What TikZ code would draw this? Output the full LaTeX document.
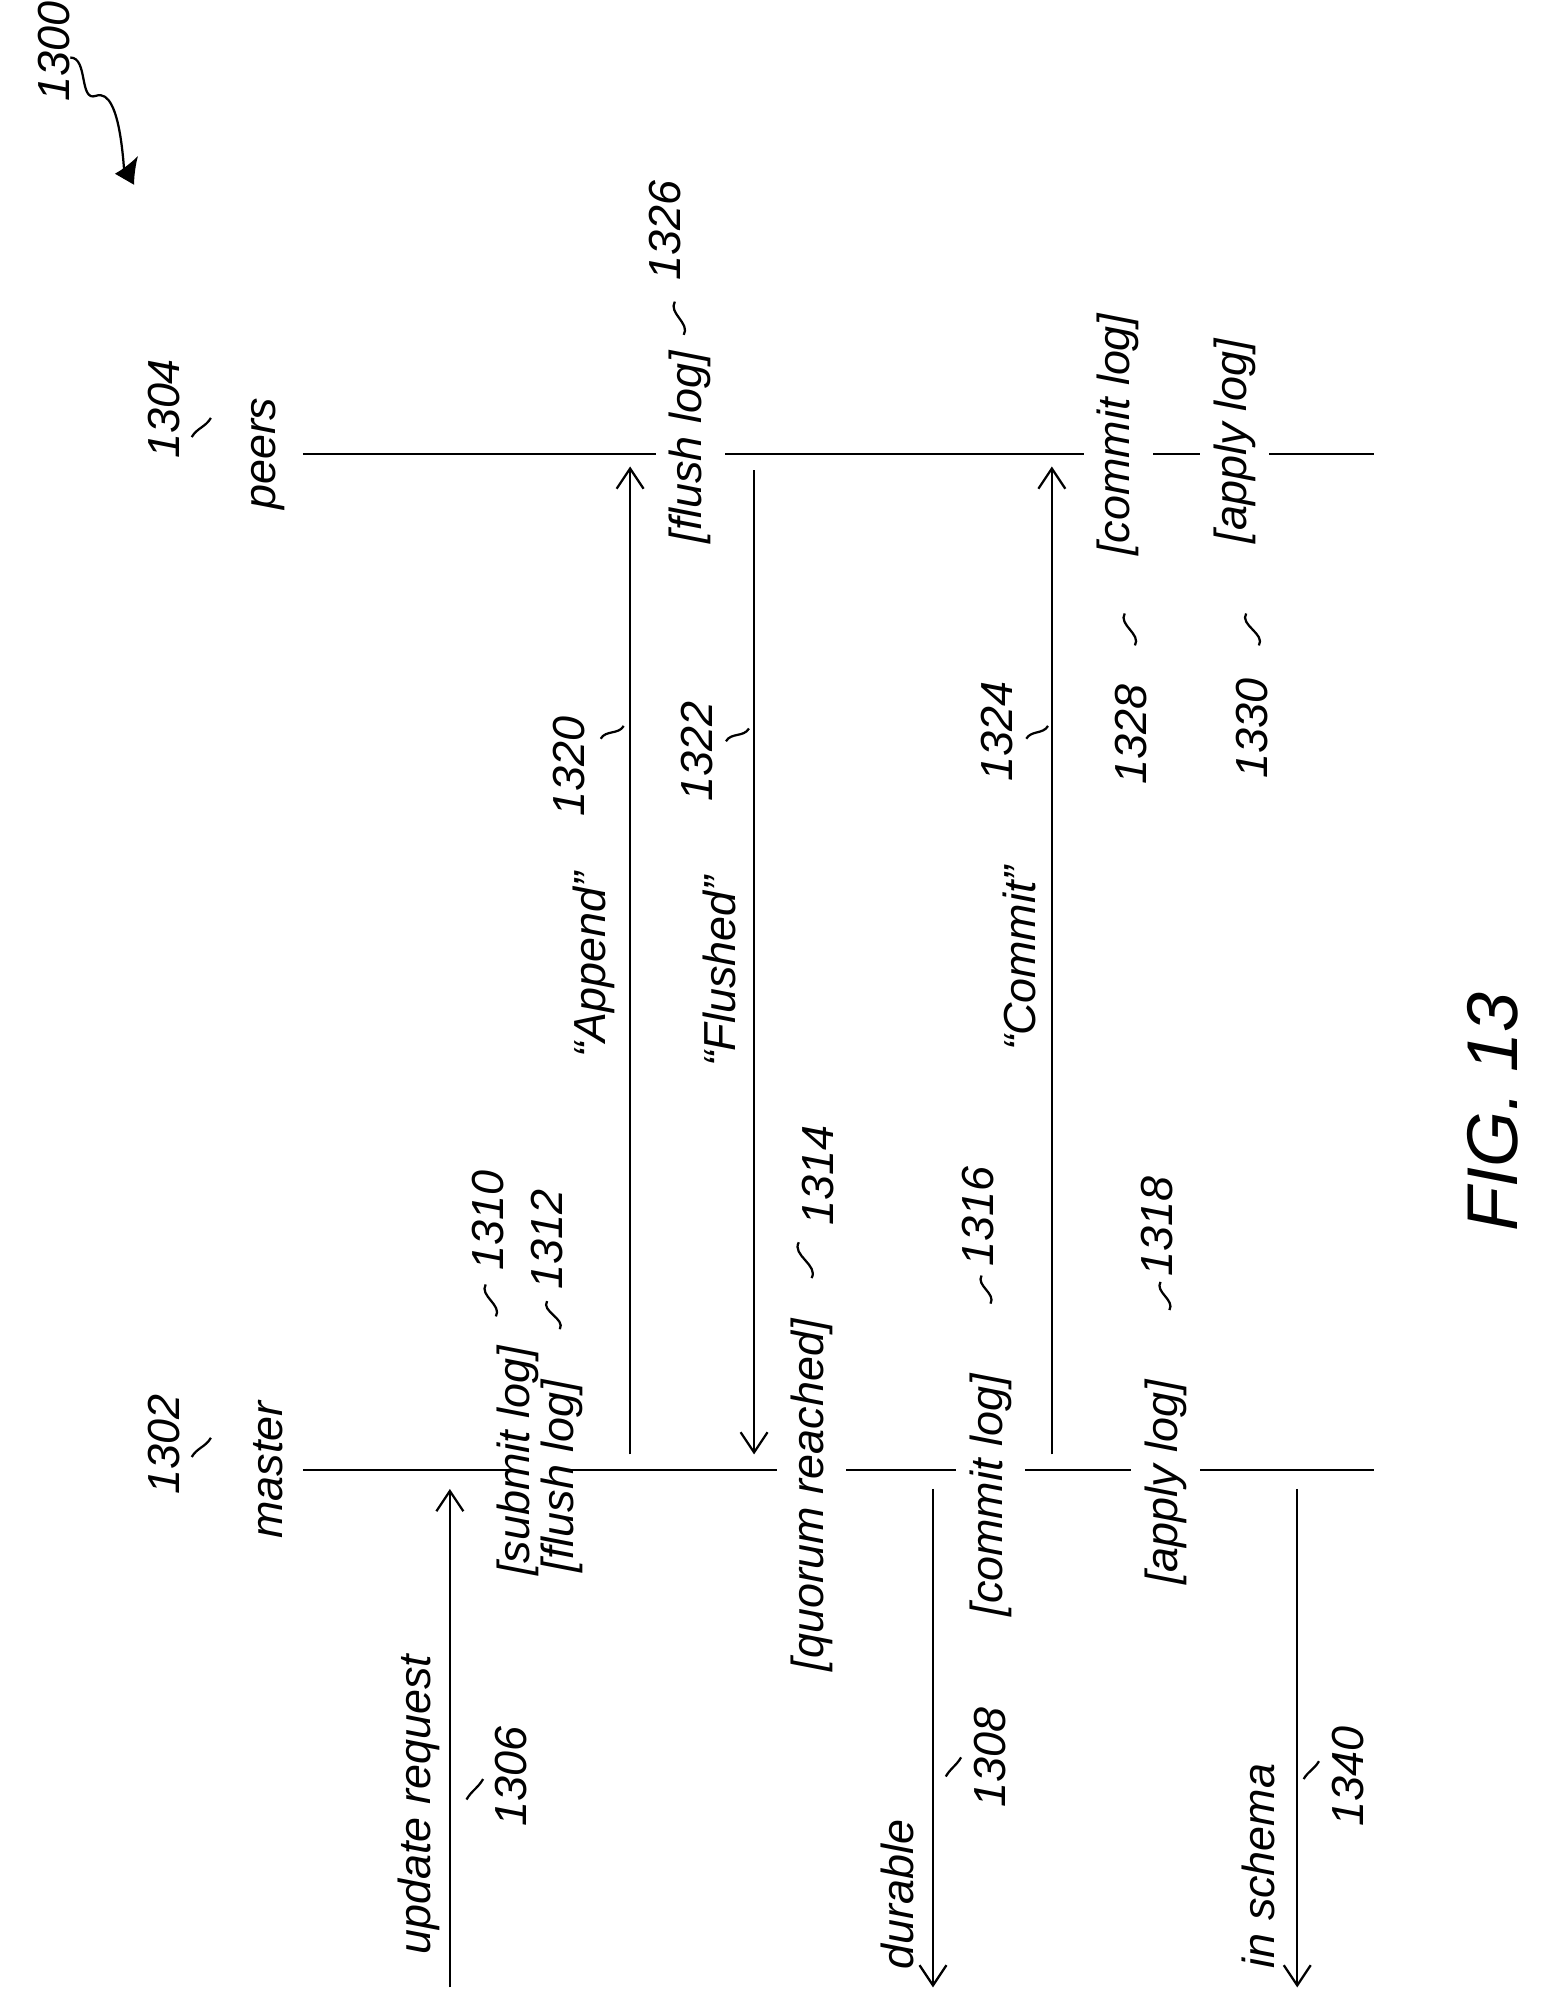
\documentclass[tikz,border=0pt]{standalone}
\usepackage{fontspec}
\setmainfont{Liberation Sans}
\usetikzlibrary{positioning,arrows.meta}
\tikzset{
  txt/.style={rotate=90, font=\fontsize{20}{22}\selectfont\itshape, inner sep=2pt},
  lbl/.style={txt, fill=white, inner sep=6pt},
  msg/.style={-{Straight Barb[length=9pt,width=12pt]}, line width=1pt},
  sq/.style={line width=1pt}
}
\newcommand{\squig}[2]{\draw[sq] #1 to[out=60,in=240] #2;}
\begin{document}
\begin{tikzpicture}[x=0.02cm,y=-0.02cm,line width=1pt]
  \useasboundingbox (0,0) rectangle (1210,1568);

  % Lifelines
  \coordinate (m0) at (237,1150); \coordinate (m1) at (1075,1150);
  \coordinate (p0) at (237,355);  \coordinate (p1) at (1075,355);
  \draw (m0) -- (m1);
  \draw (p0) -- (p1);
  \node[txt] (master) at (210,1150) {master};
  \node[txt] (peers) at (210,355) {peers};
  \node[txt] (n1302) at (128,1130) {1302};
  \node[txt] (n1304) at (128,320) {1304};
  \squig{(150,1140)}{(165,1125)}
  \squig{(150,342)}{(165,327)}

  % Master states
  \node[lbl, inner sep=12pt, minimum width=190pt] (submit) at (420,1150) {};
  \node[txt] at (405,1143) {[submit log]};
  \node[txt] at (440,1155) {[flush log]};
  \node[lbl] (quorum) at (635,1170) {[quorum reached]};
  \node[lbl] (mcommit) at (775,1170) {[commit log]};
  \node[lbl] (mapply) at (912,1160) {[apply log]};
  \node[txt] (n1310) at (382,955) {1310};
  \node[txt] (n1312) at (428,970) {1312};
  \node[txt] (n1314) at (640,920) {1314};
  \node[txt] (n1316) at (765,952) {1316};
  \node[txt] (n1318) at (905,960) {1318};
  \squig{(388,1030)}{(380,1005)}
  \squig{(438,1040)}{(428,1018)}
  \squig{(635,1000)}{(625,972)}
  \squig{(775,1020)}{(768,998)}
  \squig{(915,1025)}{(908,1003)}

  % Peer states
  \node[lbl] (pflush) at (540,350) {[flush log]};
  \node[lbl] (pcommit) at (875,340) {[commit log]};
  \node[lbl] (papply) at (966,345) {[apply log]};
  \node[txt] (n1326) at (520,180) {1326};
  \node[txt] (n1328) at (885,575) {1328};
  \node[txt] (n1330) at (980,570) {1330};
  \squig{(535,262)}{(528,236)}
  \squig{(888,505)}{(880,480)}
  \squig{(985,505)}{(975,480)}

  % Messages
  \coordinate (ur0) at (352,1555); \coordinate (ur1) at (352,1165);
  \coordinate (du0) at (730,1165); \coordinate (du1) at (730,1555);
  \coordinate (is0) at (1015,1165); \coordinate (is1) at (1015,1555);
  \coordinate (ap0) at (493,1138); \coordinate (ap1) at (493,365);
  \coordinate (fl0) at (590,368);  \coordinate (fl1) at (590,1138);
  \coordinate (cm0) at (823,1138); \coordinate (cm1) at (823,365);
  \draw[msg] (ur0) -- (ur1);
  \draw[msg] (du0) -- (du1);
  \draw[msg] (is0) -- (is1);
  \draw[msg] (ap0) -- (ap1);
  \draw[msg] (fl0) -- (fl1);
  \draw[msg] (cm0) -- (cm1);
  \node[txt] (update) at (328,1412) {update request};
  \node[txt] (durable) at (702,1482) {durable};
  \node[txt] (schema) at (985,1460) {in schema};
  \node[txt] (append) at (465,755) {“Append”};
  \node[txt] (flushed) at (563,760) {“Flushed”};
  \node[txt] (commit) at (798,750) {“Commit”};
  \node[txt] (n1306) at (400,1390) {1306};
  \node[txt] (n1308) at (775,1375) {1308};
  \node[txt] (n1340) at (1055,1390) {1340};
  \node[txt] (n1320) at (445,600) {1320};
  \node[txt] (n1322) at (545,588) {1322};
  \node[txt] (n1324) at (780,572) {1324};
  \squig{(365,1408)}{(378,1392)}
  \squig{(740,1390)}{(752,1375)}
  \squig{(1020,1392)}{(1032,1378)}
  \squig{(470,578)}{(488,568)}
  \squig{(568,580)}{(586,570)}
  \squig{(803,578)}{(820,568)}

  % Figure number
  \node[txt, font=\fontsize{32}{36}\selectfont\itshape] (fig) at (1168,870) {FIG. 13};
  \node[txt] (n1300) at (42,40) {1300};
  \draw[msg, -{Latex[length=12pt,width=10pt]}] (55,45) to[out=0,in=200] (75,75) to[out=20,in=240] (108,122);
\end{tikzpicture}
\end{document}
